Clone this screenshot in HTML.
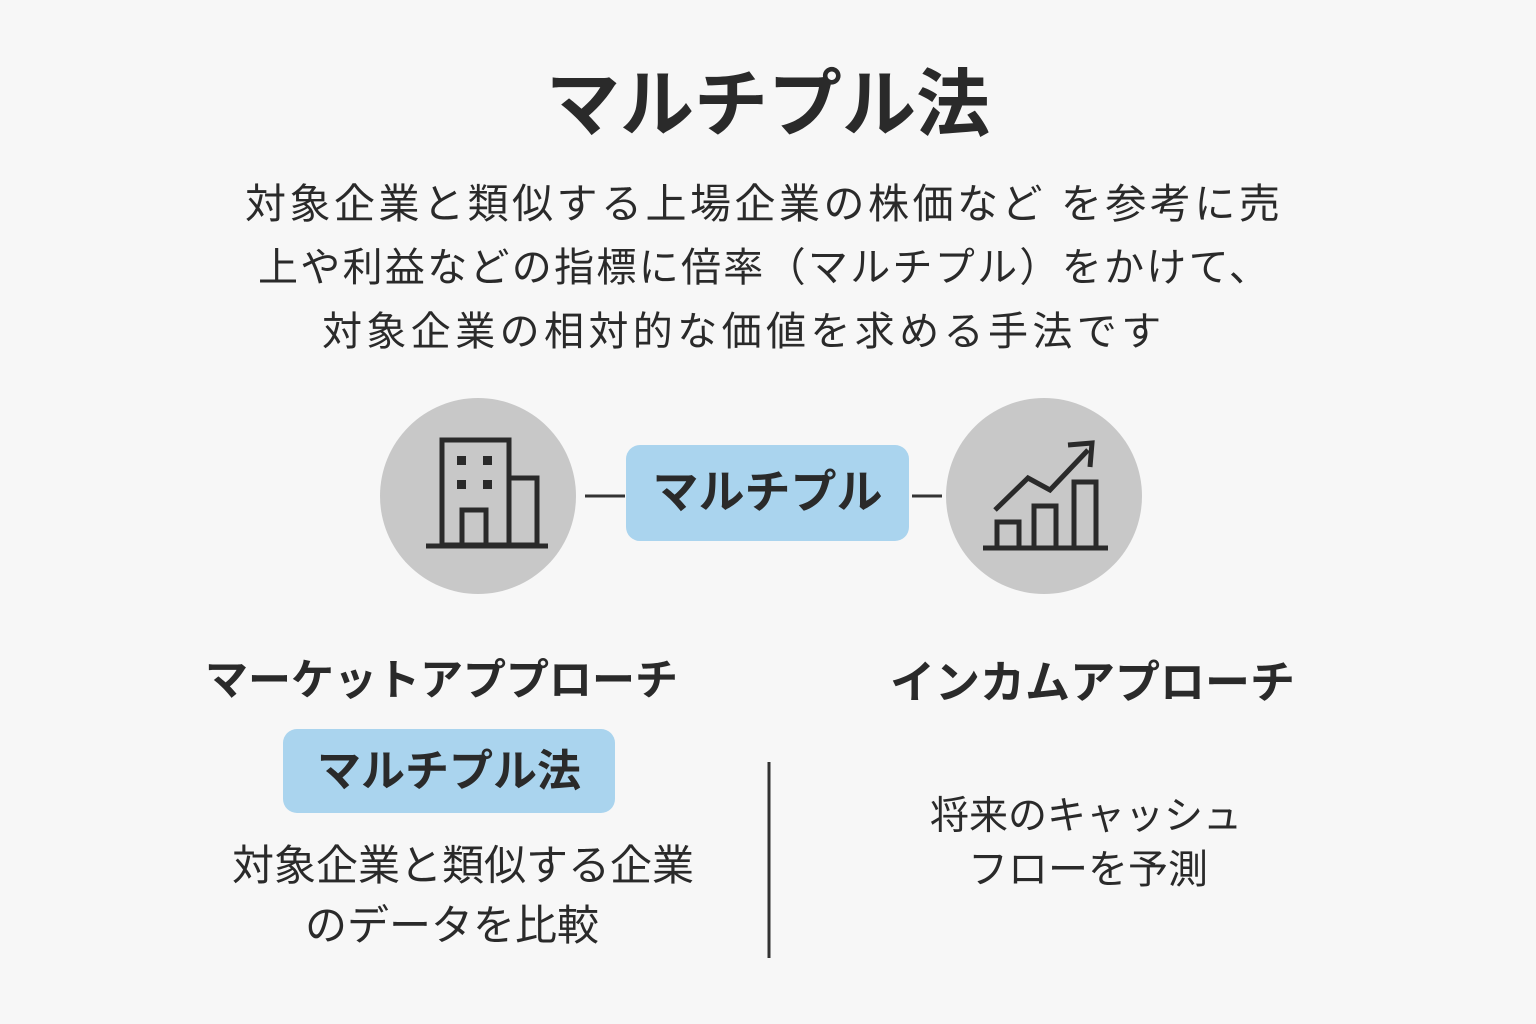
<!DOCTYPE html>
<html><head><meta charset="utf-8"><style>
html,body{margin:0;padding:0;}
body{width:1536px;height:1024px;background:#f7f7f7;position:relative;overflow:hidden;font-family:"Liberation Sans","Noto Sans CJK JP",sans-serif;color:#2a2a2a;}
.t{position:absolute;white-space:nowrap;line-height:1;}
</style></head><body>
<div class="t" style="left:0;width:1536px;text-align:center;top:68px;font-size:74px;font-weight:bold;">マルチプル法</div>
<div class="t" style="left:245px;top:184px;font-size:41px;letter-spacing:3.5px;">対象企業と類似する上場企業の株価など を参考に売</div>
<div class="t" style="left:258px;top:248px;font-size:40px;letter-spacing:2.3px;">上や利益などの指標に倍率（マルチプル）をかけて、</div>
<div class="t" style="left:322px;top:312px;font-size:40px;letter-spacing:4.4px;">対象企業の相対的な価値を求める手法です</div>

<svg style="position:absolute;left:0;top:0" width="1536" height="1024">
<circle cx="478" cy="496" r="98" fill="#c8c8c8"/>
<circle cx="1044" cy="496" r="98" fill="#c8c8c8"/>
<line x1="585" y1="496" x2="625" y2="496" stroke="#333" stroke-width="3"/>
<line x1="912" y1="496" x2="942" y2="496" stroke="#333" stroke-width="3"/>
<rect x="626" y="445" width="283" height="96" rx="14" fill="#aad4ee"/>
<rect x="283" y="729" width="332" height="84" rx="14" fill="#aad4ee"/>
<line x1="769" y1="762" x2="769" y2="958" stroke="#333" stroke-width="3"/>
<g fill="none" stroke="#2a2a2a" stroke-width="5">
<rect x="442" y="440" width="67" height="105"/>
<rect x="509" y="478" width="28" height="67"/>
<rect x="462" y="510" width="24" height="35"/>
<line x1="426" y1="546" x2="548" y2="546"/>
</g>
<g fill="#2a2a2a">
<rect x="457" y="456" width="9" height="9"/><rect x="483" y="456" width="9" height="9"/>
<rect x="457" y="480" width="9" height="9"/><rect x="483" y="480" width="9" height="9"/>
</g>
<g fill="none" stroke="#2a2a2a" stroke-width="5">
<line x1="983" y1="548" x2="1108" y2="548"/>
<rect x="997" y="522" width="22" height="26"/>
<rect x="1034" y="506" width="22" height="42"/>
<rect x="1074" y="482" width="22" height="66"/>
<polyline points="995,510 1028,478 1050,490 1088,450"/>
<polyline points="1068,445 1092,443 1090,467"/>
</g>
</svg>

<div class="t" style="left:626px;width:283px;text-align:center;top:469px;font-size:46px;font-weight:bold;">マルチプル</div>
<div class="t" style="left:205px;top:660px;font-size:43px;font-weight:bold;">マーケットアププローチ</div>
<div class="t" style="left:890px;top:660px;font-size:45px;font-weight:bold;">インカムアプローチ</div>
<div class="t" style="left:283px;width:332px;text-align:center;top:750px;font-size:44px;font-weight:bold;">マルチプル法</div>
<div class="t" style="left:232px;top:845px;font-size:42px;">対象企業と類似する企業</div>
<div class="t" style="left:232px;width:440px;text-align:center;top:905px;font-size:42px;">のデータを比較</div>
<div class="t" style="left:930px;top:797px;font-size:39px;">将来のキャッシュ</div>
<div class="t" style="left:968px;top:850px;font-size:40px;">フローを予測</div>
</body></html>
